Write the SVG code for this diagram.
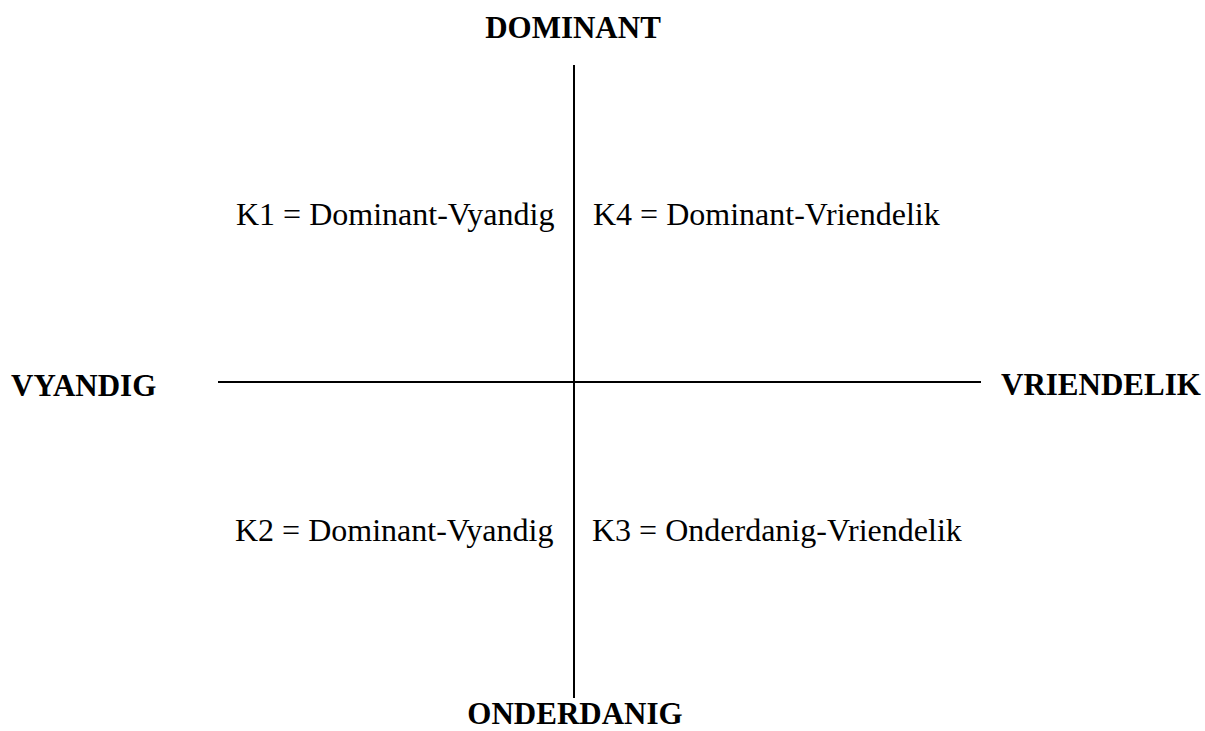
<svg xmlns="http://www.w3.org/2000/svg" width="1205" height="731" viewBox="0 0 1205 731">
<style>
.axis{stroke:#000;stroke-width:2;fill:none}
.pole{font-family:"Liberation Serif","Times New Roman",serif;font-weight:bold;font-size:31px;fill:#000}
.quad{font-family:"Liberation Serif","Times New Roman",serif;font-size:32px;fill:#000}
</style>
<rect width="1205" height="731" fill="#fff"/>
<g id="connectors">
<line class="axis" x1="574" y1="65" x2="574" y2="698"/>
<line class="axis" x1="218" y1="382" x2="981" y2="382"/>
</g>
<g id="dominant"><text class="pole" x="573" y="38" text-anchor="middle">DOMINANT</text></g>
<g id="onderdanig"><text class="pole" x="575" y="724" text-anchor="middle">ONDERDANIG</text></g>
<g id="vyandig"><text class="pole" x="11" y="396">VYANDIG</text></g>
<g id="vriendelik"><text class="pole" x="1001" y="395">VRIENDELIK</text></g>
<g id="k1"><text class="quad" x="236" y="225">K1 = Dominant-Vyandig</text></g>
<g id="k4"><text class="quad" x="593" y="225">K4 = Dominant-Vriendelik</text></g>
<g id="k2"><text class="quad" x="235" y="541">K2 = Dominant-Vyandig</text></g>
<g id="k3"><text class="quad" x="592" y="541">K3 = Onderdanig-Vriendelik</text></g>
</svg>
